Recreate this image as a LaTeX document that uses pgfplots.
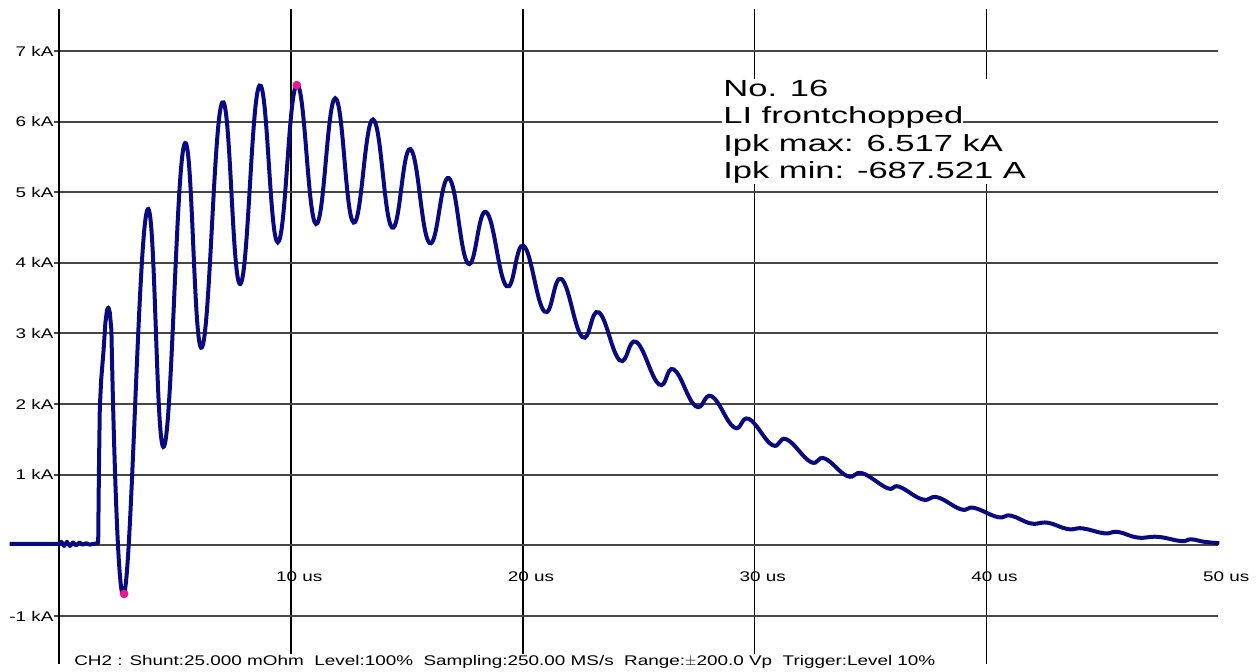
\documentclass[border=0pt]{standalone}
\usepackage{pgfplots}
\pgfplotsset{compat=1.18}
\usepackage{fontspec}
\setmainfont{Liberation Sans}
\newfontfamily\widesmall[FakeStretch=1.35]{Liberation Sans}
\newfontfamily\widebig[FakeStretch=1.48]{Liberation Sans}

\definecolor{wave}{RGB}{10,10,128}
\definecolor{pk}{RGB}{240,20,140}
\definecolor{hgrid}{RGB}{70,70,70}

\begin{document}
\begin{tikzpicture}
\begin{axis}[
    x=17.385pt, y=52.98pt,
    xmin=0, xmax=50, ymin=-1.685, ymax=7.59,
    clip=false,
    axis lines*=left,
    x axis line style={draw=none},
    y axis line style={black, line width=1.5pt},
    xtick={10,20,30,40},
    extra x ticks={50},
    extra x tick style={grid=none},
    ytick={-1,0,...,7},
    grid=major,
    x grid style={black, line width=1.1pt},
    y grid style={hgrid, line width=1.5pt},
    major x tick style={draw=none},
    major y tick style={hgrid, line width=1.5pt},
    tick align=outside,
    major tick length=3.75pt,
    xticklabel={\pgfmathparse{int(\tick)}\pgfmathresult\ us},
    yticklabels={{-1 kA},{},{1 kA},{2 kA},{3 kA},{4 kA},{5 kA},{6 kA},{7 kA}},
    tick label style={font=\widesmall\fontsize{10.5}{12}\selectfont},
    xticklabel style={anchor=center, yshift=69.8pt, xshift=6pt},
    yticklabel style={anchor=east, inner sep=0.5pt},
]
% invisible frame that fixes the page size
\path (axis cs:-2.567,-1.791) rectangle (axis cs:51.72,7.722);

% pre-trigger baseline and front
\addplot[wave, line width=3pt, line join=round] coordinates {
    (-2.15,0.02) (0.00,0.02) (0.08,0.05) (0.20,-0.01) (0.32,0.05)
    (0.45,-0.01) (0.58,0.04) (0.72,0.00) (0.86,0.04) (1.00,0.01)
    (1.15,0.03) (1.30,0.01) (1.45,0.02) (1.67,0.03)
    (1.70,1.00) (1.74,1.95) (1.80,2.35) (1.90,2.75) (1.98,3.15)
    (2.05,3.33) (2.11,3.37) (2.17,3.30) (2.24,3.05)
};

% impulse current: peaks and troughs of the oscillation
\addplot[wave, line width=3pt, smooth, tension=0.75] coordinates {
    (2.24,3.05)
    (2.79,-0.69) (3.77,4.73) (4.51,1.40) (5.39,5.68) (6.14,2.80)
    (7.02,6.27) (7.80,3.70) (8.63,6.51) (9.42,4.29) (10.24,6.52)
    (11.07,4.55) (11.90,6.33) (12.69,4.57) (13.53,6.03) (14.35,4.50)
    (15.14,5.61) (15.97,4.28) (16.80,5.20) (17.63,3.99) (18.41,4.72)
    (19.29,3.67) (20.03,4.24) (20.93,3.31) (21.66,3.77) (22.56,2.95)
    (23.27,3.30) (24.18,2.62) (24.89,2.88) (25.87,2.28) (26.51,2.49)
    (27.45,1.97) (28.15,2.11) (29.11,1.67) (29.75,1.79) (30.76,1.42)
    (31.38,1.50) (32.42,1.18) (33.02,1.23) (34.00,0.98) (34.65,1.02)
    (35.73,0.81) (36.23,0.83) (37.24,0.65) (37.89,0.68) (38.90,0.51)
    (39.47,0.53) (40.49,0.40) (41.06,0.42) (41.92,0.31) (42.64,0.32)
    (43.51,0.23) (44.15,0.24) (45.09,0.17) (45.67,0.19) (46.53,0.11)
    (47.40,0.12) (48.40,0.06) (48.83,0.085) (49.40,0.05) (50.05,0.03)
};

% peak markers
\addplot[only marks, mark=*, mark size=3pt, pk] coordinates {
    (10.24,6.517) (2.79,-0.6875)
};

\node[anchor=base west, align=left, fill=white, inner sep=1pt,
      font=\widebig\fontsize{17.5}{20.4}\selectfont]
    at (axis cs:28.58,5.198)
    {No. 16\\LI frontchopped\\Ipk max: 6.517 kA\\Ipk min: -687.521 A};
% the 6 kA grid line shows again right of the text
\draw[hgrid, line width=1.5pt] (axis cs:38.98,6) -- (axis cs:50,6);

\node[anchor=base west, fill=white, inner sep=1pt,
      font=\widesmall\fontsize{10.5}{12}\selectfont]
    at (axis cs:0.57,-1.706)
    {CH2 : Shunt:25.000 mOhm\ \ Level:100\%\ \ Sampling:250.00 MS/s\ \ Range:$\pm$200.0 Vp\ \ Trigger:Level 10\%};
\end{axis}
\end{tikzpicture}
\end{document}
